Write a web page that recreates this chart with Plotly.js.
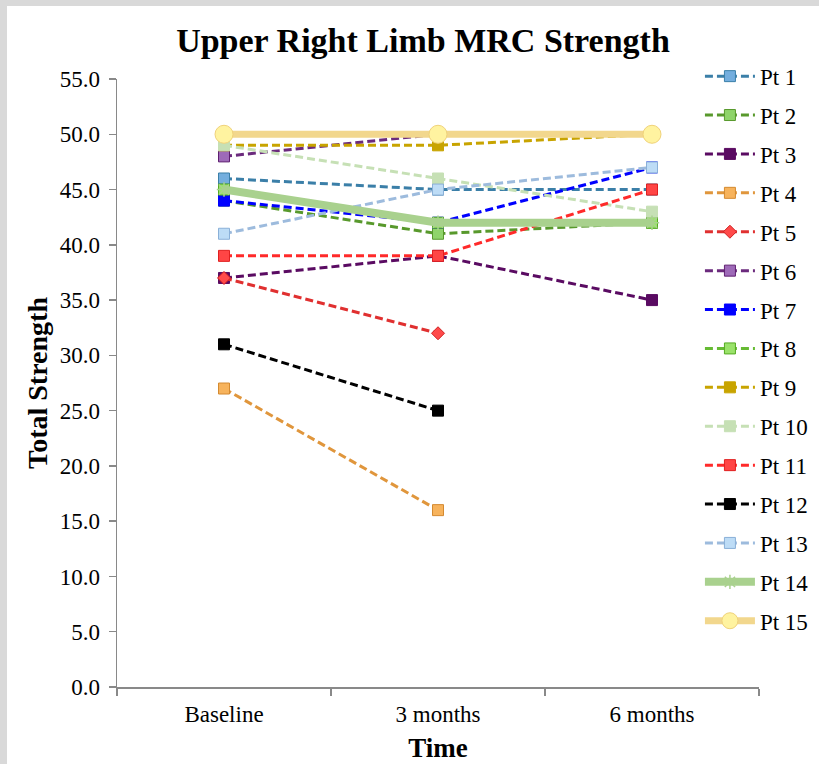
<!DOCTYPE html>
<html>
<head>
<meta charset="utf-8">
<script src="https://cdn.plot.ly/plotly-3.0.1.min.js"></script>
<style>
html,body{margin:0;padding:0;background:#d9d9d9;width:819px;height:764px;overflow:hidden;}
#wrap{position:absolute;left:7px;top:6px;width:812px;height:758px;background:#fff;overflow:hidden;}
#chart{position:absolute;left:0;top:0;width:860px;height:758px;}
</style>
</head>
<body>
<div id="wrap"><div id="chart"></div></div>
<script>
const timepoints = ["Baseline", "3 months", "6 months"];
const yTicks = [0, 5, 10, 15, 20, 25, 30, 35, 40, 45, 50, 55];

const pt1  = [46, 45, 45];
const pt2  = [44, 41, 42];
const pt3  = [37, 39, 35];
const pt4  = [27, 16, null];
const pt5  = [37, 32, null];
const pt6  = [48, 50, 50];
const pt7  = [44, 42, 47];
const pt8  = [45, 42, 42];
const pt9  = [49, 49, 50];
const pt10 = [49, 46, 43];
const pt11 = [39, 39, 45];
const pt12 = [31, 25, null];
const pt13 = [41, 45, 47];
const pt14 = [45, 42, 42];
const pt15 = [50, 50, 50];

const names = ["Pt 1","Pt 2","Pt 3","Pt 4","Pt 5","Pt 6","Pt 7","Pt 8","Pt 9","Pt 10","Pt 11","Pt 12","Pt 13","Pt 14","Pt 15"];
const seriesValues = [pt1,pt2,pt3,pt4,pt5,pt6,pt7,pt8,pt9,pt10,pt11,pt12,pt13,pt14,pt15];

const D = "8px,4px";
const styles = [
  {lc:"#3b7fa8", w:3, dash:D, sym:"square", ms:11, mf:"#74aede", ml:"#3b7fa8"},
  {lc:"#58992c", w:3, dash:D, sym:"square", ms:11, mf:"#8fd46a", ml:"#58992c"},
  {lc:"#5a0b62", w:3, dash:D, sym:"square", ms:11, mf:"#5a0b62", ml:"#5a0b62"},
  {lc:"#e0963c", w:3, dash:D, sym:"square", ms:11, mf:"#f7b35c", ml:"#d48a30"},
  {lc:"#e03030", w:3, dash:D, sym:"diamond", ms:10, mf:"#ff4a4a", ml:"#d02020"},
  {lc:"#6b2a7d", w:3, dash:D, sym:"square", ms:11, mf:"#9e6ab8", ml:"#5e1f70"},
  {lc:"#0000ff", w:3, dash:D, sym:"square", ms:11, mf:"#0000ff", ml:"#0000ff"},
  {lc:"#66bb33", w:3, dash:D, sym:"square", ms:11, mf:"#9ae26a", ml:"#55aa22"},
  {lc:"#c8a400", w:3, dash:D, sym:"square", ms:11, mf:"#c8a400", ml:"#c8a400"},
  {lc:"#c6e0b5", w:3, dash:D, sym:"square", ms:11, mf:"#c6e0b5", ml:"#c6e0b5"},
  {lc:"#ff2a2a", w:3, dash:D, sym:"square", ms:11, mf:"#ff4545", ml:"#e02020"},
  {lc:"#000000", w:3, dash:D, sym:"square", ms:11, mf:"#000000", ml:"#000000"},
  {lc:"#9dbbdd", w:3, dash:D, sym:"square", ms:11, mf:"#bddcf6", ml:"#8ab0d8"},
  {lc:"#a9d18e", w:8, dash:"solid", sym:"asterisk-open", ms:12, mf:"#a9d18e", ml:"#9cc48a"},
  {lc:"#f2d78d", w:7, dash:"solid", sym:"circle", ms:18, mf:"#fff3a0", ml:"#f0d27a"}
];

const traces = seriesValues.map((vals, i) => ({
  type: "scatter",
  mode: "lines+markers",
  name: names[i],
  legendgroup: "g" + i,
  x: timepoints,
  y: vals,
  connectgaps: false,
  line: {color: styles[i].lc, width: styles[i].w, dash: styles[i].dash},
  marker: {symbol: styles[i].sym, size: styles[i].ms, color: styles[i].mf,
           line: {color: styles[i].ml, width: styles[i].sym === "asterisk-open" ? 1.5 : 1}}
}));

const serif = "Liberation Serif";

const layout = {
  width: 860,
  height: 758,
  paper_bgcolor: "#ffffff",
  plot_bgcolor: "#ffffff",
  margin: {l: 110, r: 108, t: 73, b: 77},
  font: {family: serif, color: "#000"},
  title: {
    text: "<b>Upper Right Limb MRC Strength</b>",
    font: {family: serif, size: 34, color: "#000"},
    x: 416 / 860, xref: "container", xanchor: "center",
    y: 0.955, yref: "container", yanchor: "middle"
  },
  xaxis: {
    type: "category",
    categoryorder: "array",
    categoryarray: timepoints,
    range: [-0.5, 2.5],
    showgrid: false,
    zeroline: false,
    showline: true,
    linecolor: "#898989",
    linewidth: 1.5,
    ticks: "outside",
    tickson: "boundaries",
    ticklen: 7,
    tickcolor: "#898989",
    tickwidth: 1.5,
    ticklabelstandoff: 6,
    tickfont: {family: serif, size: 23, color: "#000"},
    title: {text: "<b>Time</b>", font: {family: serif, size: 27, color: "#000"}, standoff: 12}
  },
  yaxis: {
    range: [0, 55],
    tickvals: yTicks,
    tickformat: ".1f",
    showgrid: false,
    zeroline: false,
    showline: true,
    linecolor: "#898989",
    linewidth: 1.5,
    ticks: "outside",
    ticklen: 7,
    tickcolor: "#898989",
    tickwidth: 1.5,
    ticklabelstandoff: 4,
    tickfont: {family: serif, size: 23, color: "#000"},
    title: {text: "<b>Total Strength</b>", font: {family: serif, size: 28, color: "#000"}, standoff: 4}
  },
  showlegend: true,
  legend: {
    x: 0.908, xanchor: "left",
    y: 1.04, yanchor: "top",
    bgcolor: "rgba(0,0,0,0)",
    font: {family: serif, size: 23, color: "#000"},
    itemwidth: 50,
    tracegroupgap: 6,
    traceorder: "grouped",
    maxheight: 740
  }
};

Plotly.newPlot("chart", traces, layout, {displayModeBar: false, staticPlot: true});
</script>
</body>
</html>
